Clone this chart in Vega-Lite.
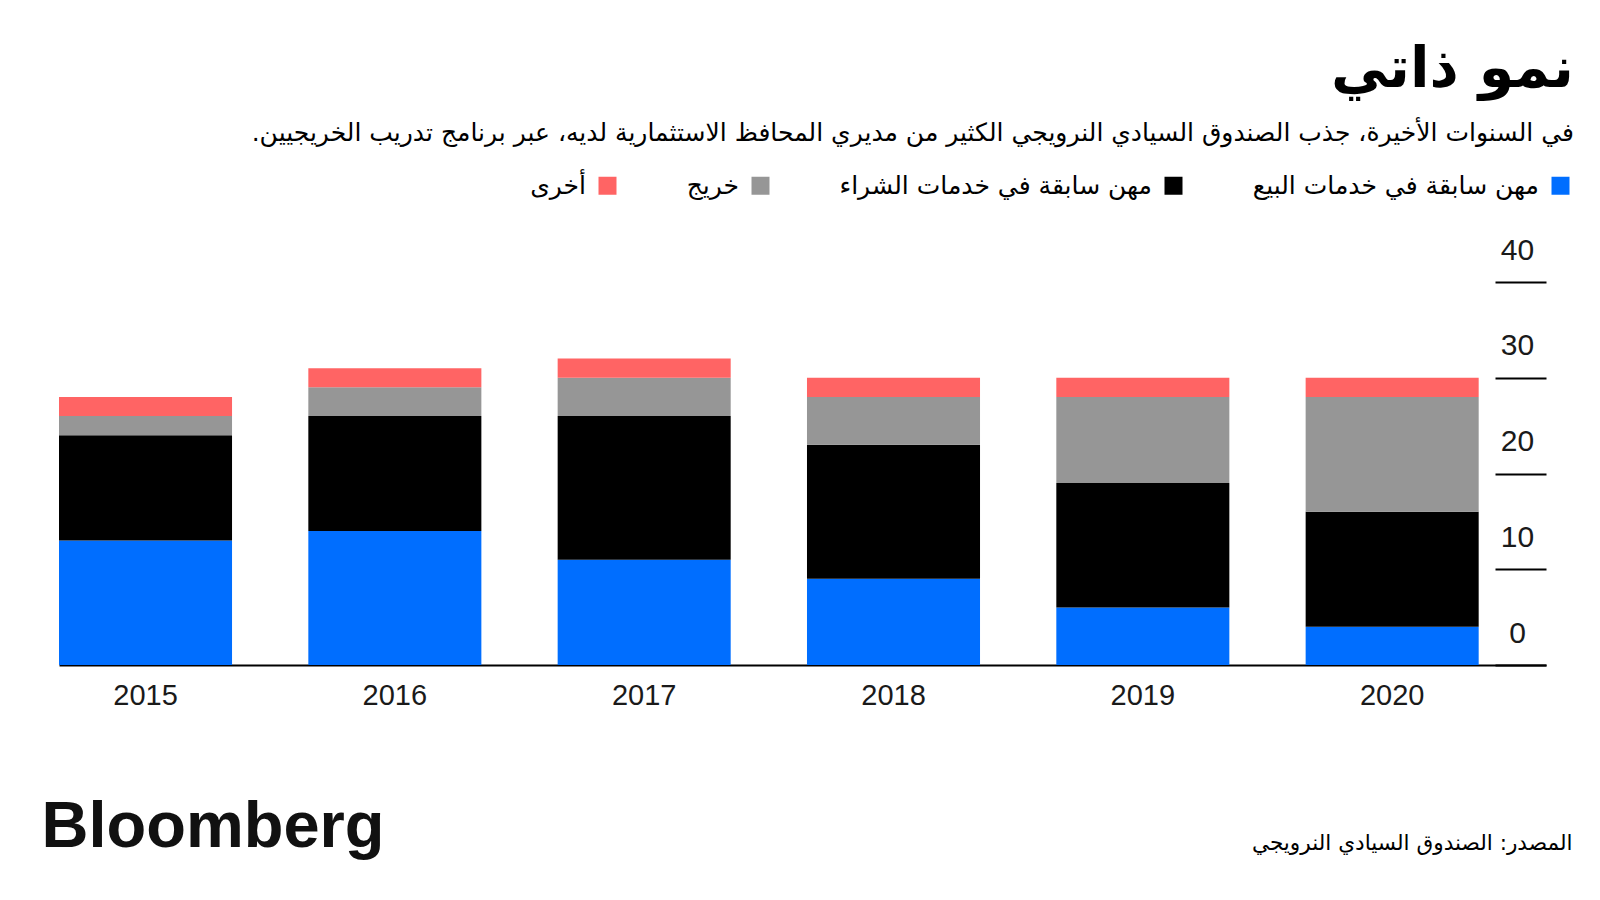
{
  "$schema": "https://vega.github.io/schema/vega-lite/v6.json",
  "autosize": "none",
  "width": 1487,
  "height": 383,
  "padding": {"left": 59, "top": 282, "right": 54, "bottom": 235},
  "background": "#ffffff",
  "title": {
    "text": "نمو ذاتي",
    "subtitle": "في السنوات الأخيرة، جذب الصندوق السيادي النرويجي الكثير من مديري المحافظ الاستثمارية لديه، عبر برنامج تدريب الخريجيين.‏",
    "anchor": "end",
    "frame": "group",
    "dx": 28,
    "offset": 26,
    "font": "DejaVu Sans",
    "fontSize": 57,
    "fontWeight": "bold",
    "color": "#000000",
    "subtitleFont": "DejaVu Sans",
    "subtitleFontSize": 25,
    "subtitleColor": "#000000",
    "subtitlePadding": 22
  },
  "data": {
    "values": [
      {"year": "2015", "cat": "مهن سابقة في خدمات البيع", "value": 13},
      {"year": "2015", "cat": "مهن سابقة في خدمات الشراء", "value": 11},
      {"year": "2015", "cat": "خريج", "value": 2},
      {"year": "2015", "cat": "أخرى", "value": 2},
      {"year": "2016", "cat": "مهن سابقة في خدمات البيع", "value": 14},
      {"year": "2016", "cat": "مهن سابقة في خدمات الشراء", "value": 12},
      {"year": "2016", "cat": "خريج", "value": 3},
      {"year": "2016", "cat": "أخرى", "value": 2},
      {"year": "2017", "cat": "مهن سابقة في خدمات البيع", "value": 11},
      {"year": "2017", "cat": "مهن سابقة في خدمات الشراء", "value": 15},
      {"year": "2017", "cat": "خريج", "value": 4},
      {"year": "2017", "cat": "أخرى", "value": 2},
      {"year": "2018", "cat": "مهن سابقة في خدمات البيع", "value": 9},
      {"year": "2018", "cat": "مهن سابقة في خدمات الشراء", "value": 14},
      {"year": "2018", "cat": "خريج", "value": 5},
      {"year": "2018", "cat": "أخرى", "value": 2},
      {"year": "2019", "cat": "مهن سابقة في خدمات البيع", "value": 6},
      {"year": "2019", "cat": "مهن سابقة في خدمات الشراء", "value": 13},
      {"year": "2019", "cat": "خريج", "value": 9},
      {"year": "2019", "cat": "أخرى", "value": 2},
      {"year": "2020", "cat": "مهن سابقة في خدمات البيع", "value": 4},
      {"year": "2020", "cat": "مهن سابقة في خدمات الشراء", "value": 12},
      {"year": "2020", "cat": "خريج", "value": 12},
      {"year": "2020", "cat": "أخرى", "value": 2}
    ]
  },
  "transform": [
    {"calculate": "indexof(['مهن سابقة في خدمات البيع', 'مهن سابقة في خدمات الشراء', 'خريج', 'أخرى'], datum.cat)", "as": "k"}
  ],
  "mark": {"type": "bar"},
  "encoding": {
    "x": {
      "field": "year",
      "type": "nominal",
      "scale": {"paddingInner": 0.306, "paddingOuter": 0.135, "align": 0},
      "axis": {
        "title": "المصدر: الصندوق السيادي النرويجي",
        "titleFont": "DejaVu Sans",
        "titleFontSize": 21.6,
        "titleFontWeight": "normal",
        "titleColor": "#000000",
        "titleAnchor": "end",
        "titleAlign": "right",
        "titleBaseline": "middle",
        "titleX": 1513,
        "titleY": 178,
        "labelAngle": 0,
        "labelFont": "Liberation Sans",
        "labelFontSize": 29,
        "labelColor": "#1a1a1a",
        "labelPadding": 16,
        "ticks": false,
        "domainColor": "#000000",
        "domainWidth": 2
      }
    },
    "y": {
      "field": "value",
      "type": "quantitative",
      "stack": "zero",
      "scale": {"domain": [0, 40], "nice": false},
      "axis": {
        "orient": "right",
        "offset": -51,
        "values": [0, 10, 20, 30, 40],
        "title": "Bloomberg",
        "titleFont": "Liberation Sans",
        "titleFontSize": 65,
        "titleFontWeight": "bold",
        "titleColor": "#111111",
        "titleAngle": 0,
        "titleAlign": "left",
        "titleBaseline": "alphabetic",
        "titleX": -1454,
        "titleY": 564,
        "domain": false,
        "grid": false,
        "tickSize": 51,
        "tickWidth": 2,
        "tickColor": "#000000",
        "labelAlign": "center",
        "labelBaseline": "alphabetic",
        "labelPadding": -29,
        "labelOffset": -23,
        "labelFont": "Liberation Sans",
        "labelFontSize": 30,
        "labelColor": "#1a1a1a"
      }
    },
    "color": {
      "field": "cat",
      "type": "nominal",
      "scale": {
        "domain": ["أخرى", "خريج", "مهن سابقة في خدمات الشراء", "مهن سابقة في خدمات البيع"],
        "range": ["#ff6464", "#969696", "#000000", "#006eff"]
      },
      "legend": {
        "orient": "none",
        "direction": "horizontal",
        "legendX": 536,
        "legendY": -109,
        "title": null,
        "symbolType": "square",
        "symbolSize": 324,
        "symbolStrokeWidth": 0,
        "labelAlign": "right",
        "labelOffset": -34,
        "labelFont": "DejaVu Sans",
        "labelFontSize": 25,
        "labelColor": "#000000",
        "columnPadding": 69,
        "labelLimit": 0
      }
    },
    "order": {"field": "k", "type": "quantitative"}
  },
  "config": {"view": {"stroke": null}}
}
